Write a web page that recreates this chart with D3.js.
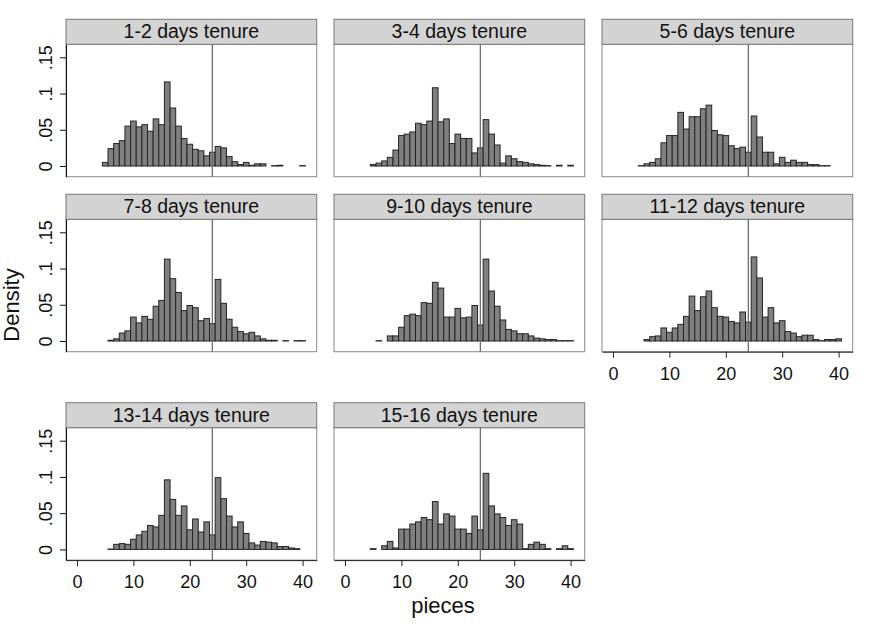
<!DOCTYPE html>
<html>
<head>
<meta charset="utf-8">
<script src="https://cdn.jsdelivr.net/npm/d3@7"></script>
<style>
  body { margin: 0; background: #fff; }
  svg { display: block; font-family: "Liberation Sans", Arial, sans-serif; }
</style>
</head>
<body>
<div id="chart"></div>
<script>
// panel titles
var panelLabels = ["1-2 days tenure", "3-4 days tenure", "5-6 days tenure",
  "7-8 days tenure", "9-10 days tenure", "11-12 days tenure",
  "13-14 days tenure", "15-16 days tenure"];
// first bin (pieces) of each panel, bins are 1 piece wide centred on integers
var binStart = [5, 5, 5, 6, 6, 6, 6, 5];
// densities per bin
var d1_2 = [0.005,0.024,0.031,0.035,0.055,0.062,0.054,0.057,0.048,0.065,0.057,0.116,0.080,0.055,0.038,0.030,0.023,0.021,0.014,0.019,0.027,0.025,0.013,0.006,0.002,0.005,0.001,0.003,0.003,0,0.0005,0.001,0,0,0,0.0005];
var d3_4 = [0.002,0.004,0.007,0.012,0.022,0.042,0.044,0.047,0.059,0.057,0.062,0.108,0.061,0.065,0.031,0.044,0.038,0.038,0.018,0.025,0.064,0.044,0.029,0.004,0.014,0.010,0.006,0.005,0.003,0.002,0.001,0.0005,0,0.001,0,0.001];
var d5_6 = [0.0005,0.003,0.005,0.010,0.032,0.042,0.042,0.074,0.051,0.068,0.068,0.079,0.084,0.049,0.043,0.042,0.028,0.024,0.026,0.019,0.069,0.040,0.019,0.019,0.003,0.012,0.005,0.008,0.005,0.005,0.002,0.002,0.0005,0.0005];
var d7_8 = [0.001,0.003,0.011,0.014,0.033,0.025,0.034,0.030,0.048,0.056,0.113,0.086,0.067,0.042,0.049,0.046,0.028,0.031,0.024,0.085,0.052,0.030,0.019,0.013,0.010,0.012,0.007,0.003,0.001,0.001,0,0.0005,0,0.0005,0.0005];
var d9_10 = [0.0005,0,0.007,0.007,0.019,0.035,0.037,0.035,0.053,0.052,0.081,0.073,0.033,0.033,0.045,0.032,0.033,0.049,0.022,0.113,0.069,0.048,0.029,0.016,0.014,0.010,0.010,0.007,0.004,0.003,0.002,0.002,0.0005,0.0005,0.0005];
var d11_12 = [0.002,0.006,0.007,0.018,0.012,0.018,0.023,0.034,0.062,0.042,0.061,0.069,0.046,0.034,0.033,0.027,0.025,0.040,0.026,0.116,0.087,0.033,0.046,0.025,0.028,0.013,0.011,0.006,0.008,0.008,0.002,0.0005,0.002,0.002,0.003];
var d13_14 = [0.0005,0.007,0.008,0.007,0.014,0.020,0.025,0.033,0.031,0.047,0.096,0.069,0.047,0.060,0.027,0.042,0.024,0.038,0.020,0.099,0.070,0.046,0.031,0.038,0.022,0.009,0.006,0.011,0.010,0.009,0.004,0.004,0.002,0.001];
var d15_16 = [0.001,0,0.005,0.011,0.002,0.028,0.028,0.035,0.038,0.044,0.041,0.066,0.035,0.049,0.046,0.028,0.028,0.022,0.046,0.027,0.105,0.060,0.049,0.044,0.033,0.041,0.035,0.001,0.007,0.010,0.007,0.001,0,0.001,0.005,0.001];
var densities = [d1_2, d3_4, d5_6, d7_8, d9_10, d11_12, d13_14, d15_16];

var xTicks = [0, 10, 20, 30, 40];
var yTicks = [0, 0.05, 0.1, 0.15];
var refLine = 24;

var W = 876, H = 634;
var colLeft = [66, 334, 602],
  rowTop = [19.3, 194.3, 402.7],
  panelW = 250.7, stripH = 25, plotH = 132.4;

var svg = d3.select("#chart").append("svg")
  .attr("width", W).attr("height", H);

var yFmt = d => d === 0 ? "0" : d3.format(".2~f")(d).replace(/^0/, "");

densities.forEach(function(vals, i) {
  var col = i % 3, row = Math.floor(i / 3);
  var left = colLeft[col], top = rowTop[row] + stripH, bottom = top + plotH;

  var x = d3.scaleLinear().domain([-1.95, 42.5]).range([left, left + panelW]);
  var y = d3.scaleLinear().domain([-0.01476, 0.16794]).range([bottom, top]);

  var g = svg.append("g");

  // plot region outline
  g.append("rect")
    .attr("x", left).attr("y", top)
    .attr("width", panelW).attr("height", plotH)
    .attr("fill", "#fff").attr("stroke", "#8a8a8a").attr("stroke-width", 1);

  // strip with title
  g.append("rect")
    .attr("x", left).attr("y", rowTop[row])
    .attr("width", panelW).attr("height", stripH)
    .attr("fill", "#d3d3d3").attr("stroke", "#777").attr("stroke-width", 1);
  g.append("text")
    .attr("x", left + panelW / 2).attr("y", rowTop[row] + 19)
    .attr("text-anchor", "middle")
    .style("font-size", "19.5px").attr("fill", "#111")
    .text(panelLabels[i]);

  var bins = vals.map((v, k) => ({n: binStart[i] + k, v: v}))
    .filter(d => d.v > 0);

  g.selectAll(".bar")
    .data(bins)
    .enter().append("rect")
    .attr("class", "bar")
    .attr("x", d => x(d.n - 0.5))
    .attr("width", d => x(d.n + 0.5) - x(d.n - 0.5))
    .attr("y", d => y(d.v))
    .attr("height", d => y(0) - y(d.v))
    .attr("fill", "#808080")
    .attr("stroke", "#242424")
    .attr("stroke-width", 1);

  // reference line at 24 pieces
  g.append("line")
    .attr("x1", x(refLine)).attr("x2", x(refLine))
    .attr("y1", top).attr("y2", bottom)
    .attr("stroke", "#6e6e6e").attr("stroke-width", 1.3);

  if (col === 0) {
    var ya = g.append("g")
      .attr("transform", `translate(${left},0)`)
      .call(d3.axisLeft(y).tickValues(yTicks).tickFormat(yFmt).tickSize(6).tickSizeOuter(0));
    ya.select(".domain").attr("stroke", "#111");
    ya.selectAll(".tick line").attr("stroke", "#111");
    ya.selectAll(".tick text")
      .attr("x", null).attr("dy", null)
      .attr("text-anchor", "middle")
      .attr("transform", "translate(-14,0) rotate(-90)")
      .attr("fill", "#111")
      .style("font-size", "18px")
      .style("font-family", "Liberation Sans, Arial, sans-serif");
  }

  if (i >= 5) {
    var xa = g.append("g")
      .attr("transform", `translate(0,${bottom})`)
      .call(d3.axisBottom(x).tickValues(xTicks).tickSize(6).tickSizeOuter(0).tickPadding(9.5));
    xa.select(".domain").attr("stroke", "#222");
    xa.selectAll(".tick line").attr("stroke", "#222");
    xa.selectAll(".tick text")
      .attr("fill", "#111")
      .style("font-size", "18px")
      .style("font-family", "Liberation Sans, Arial, sans-serif");
  }
});

// axis titles
svg.append("text")
  .attr("transform", "translate(19,305) rotate(-90)")
  .attr("text-anchor", "middle")
  .style("font-size", "22px").attr("fill", "#111")
  .text("Density");

svg.append("text")
  .attr("x", 443).attr("y", 613)
  .attr("text-anchor", "middle")
  .style("font-size", "22px").attr("fill", "#111")
  .text("pieces");
</script>
</body>
</html>
